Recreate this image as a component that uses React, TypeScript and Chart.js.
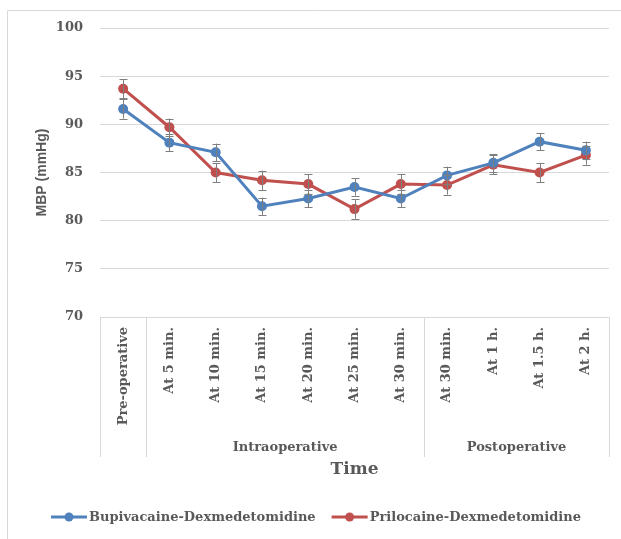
import React, { useEffect, useRef } from "react";
import { Chart, registerables } from "chart.js";

Chart.register(...registerables);

const categories = [
  "Pre-operative",
  "At 5 min.",
  "At 10 min.",
  "At 15 min.",
  "At 20 min.",
  "At 25 min.",
  "At 30 min.",
  "At 30 min.",
  "At 1 h.",
  "At 1.5 h.",
  "At 2 h.",
];
const groupLabels = ["", "Intraoperative", "Postoperative"];
const groupStarts = [0, 1, 7];
const groupEnds = [0, 6, 10];

const bupivacaine = [91.6, 88.1, 87.1, 81.5, 82.3, 83.5, 82.3, 84.7, 86.0, 88.2, 87.3];
const prilocaine = [93.7, 89.7, 85.0, 84.2, 83.8, 81.2, 83.8, 83.7, 85.8, 85.0, 86.8];
const bupivacaineErr = [1.0, 0.9, 0.9, 0.9, 0.9, 0.9, 0.9, 0.9, 0.9, 0.9, 0.9];
const prilocaineErr = [1.0, 0.9, 1.0, 1.0, 1.0, 1.0, 1.0, 1.0, 1.0, 1.0, 1.0];

const seriesNames = ["Bupivacaine-Dexmedetomidine", "Prilocaine-Dexmedetomidine"];
const yTicks = [70, 75, 80, 85, 90, 95, 100];

const BLUE = "#4F81BD";
const RED = "#C0504D";
const TEXT = "#595959";
const GRID = "#D9D9D9";
const SERIF = "'DejaVu Serif', 'Liberation Serif', serif";
const SANS = "'Liberation Sans', 'DejaVu Sans', sans-serif";

const overlayPlugin = {
  id: "overlay",
  afterDatasetsDraw(chart: any) {
    const { ctx, scales } = chart;
    const x = scales.x;
    const y = scales.y;
    const errs = [bupivacaineErr, prilocaineErr];
    ctx.save();
    ctx.strokeStyle = "#7F7F7F";
    ctx.lineWidth = 1;
    chart.data.datasets.forEach((ds: any, di: number) => {
      ds.data.forEach((v: number, i: number) => {
        const px = Math.round(x.getPixelForValue(i)) + 0.5;
        const top = y.getPixelForValue(v + errs[di][i]);
        const bot = y.getPixelForValue(v - errs[di][i]);
        ctx.beginPath();
        ctx.moveTo(px, top);
        ctx.lineTo(px, bot);
        ctx.moveTo(px - 4, Math.round(top) + 0.5);
        ctx.lineTo(px + 4, Math.round(top) + 0.5);
        ctx.moveTo(px - 4, Math.round(bot) + 0.5);
        ctx.lineTo(px + 4, Math.round(bot) + 0.5);
        ctx.stroke();
      });
    });
    ctx.restore();
  },
  afterDraw(chart: any) {
    const { ctx, scales, chartArea } = chart;
    const x = scales.x;
    const half = (x.getPixelForValue(1) - x.getPixelForValue(0)) / 2;
    const axisY = chartArea.bottom;
    const sepBottom = axisY + 140;
    ctx.save();
    // frame
    ctx.strokeStyle = GRID;
    ctx.lineWidth = 1;
    ctx.beginPath();
    ctx.moveTo(7.5, 539);
    ctx.lineTo(7.5, 10.5);
    ctx.lineTo(621, 10.5);
    ctx.stroke();
    // separators
    const seps = [0, 1, 7, 11];
    ctx.beginPath();
    seps.forEach((s) => {
      const px = Math.round(x.getPixelForValue(s) - half) + 0.5;
      ctx.moveTo(px, axisY);
      ctx.lineTo(px, sepBottom);
    });
    ctx.stroke();
    // group labels
    ctx.fillStyle = TEXT;
    ctx.font = `bold 13px ${SERIF}`;
    ctx.textAlign = "center";
    ctx.textBaseline = "middle";
    groupLabels.forEach((g, gi) => {
      if (!g) return;
      const a = x.getPixelForValue(groupStarts[gi]) - half;
      const b = x.getPixelForValue(groupEnds[gi]) + half;
      ctx.fillText(g, (a + b) / 2, axisY + 131);
    });
    // x title
    ctx.font = `bold 17px ${SERIF}`;
    ctx.fillText("Time", (chartArea.left + chartArea.right) / 2, 470);
    // y title
    ctx.save();
    ctx.translate(42, (chartArea.top + chartArea.bottom) / 2);
    ctx.rotate(-Math.PI / 2);
    ctx.font = `bold 14px ${SANS}`;
    ctx.fillText("MBP (mmHg)", 0, 0);
    ctx.restore();
    // legend
    const colors = [BLUE, RED];
    const legendY = 517;
    ctx.font = `bold 13px ${SERIF}`;
    ctx.textAlign = "left";
    const gap = 16;
    const sym = 36;
    const widths = seriesNames.map((n) => ctx.measureText(n).width);
    const total = widths.reduce((s, w) => s + w + sym + 2, 0) + gap;
    let lx = 316 - total / 2;
    seriesNames.forEach((n, i) => {
      ctx.strokeStyle = colors[i];
      ctx.lineWidth = 3;
      ctx.beginPath();
      ctx.moveTo(lx, legendY);
      ctx.lineTo(lx + sym, legendY);
      ctx.stroke();
      ctx.fillStyle = colors[i];
      ctx.beginPath();
      ctx.arc(lx + sym / 2, legendY, 4.5, 0, Math.PI * 2);
      ctx.fill();
      ctx.fillStyle = TEXT;
      ctx.fillText(n, lx + sym + 2, legendY + 1);
      lx += sym + 2 + widths[i] + gap;
    });
    ctx.restore();
  },
};

export default function App() {
  const ref = useRef<HTMLCanvasElement | null>(null);
  useEffect(() => {
    if (!ref.current) return;
    const chart = new Chart(ref.current, {
      type: "line",
      data: {
        labels: categories,
        datasets: [
          {
            label: seriesNames[0],
            data: bupivacaine,
            borderColor: BLUE,
            backgroundColor: BLUE,
            borderWidth: 3,
            pointRadius: 5,
            pointHoverRadius: 5,
            pointBorderWidth: 0,
            tension: 0,
          },
          {
            label: seriesNames[1],
            data: prilocaine,
            borderColor: RED,
            backgroundColor: RED,
            borderWidth: 3,
            pointRadius: 5,
            pointHoverRadius: 5,
            pointBorderWidth: 0,
            tension: 0,
          },
        ],
      },
      options: {
        animation: false,
        responsive: false,
        maintainAspectRatio: false,
        layout: { padding: { left: 0, right: 12, top: 28, bottom: 0 } },
        plugins: {
          legend: { display: false },
          tooltip: { enabled: false },
        },
        scales: {
          x: {
            type: "category",
            offset: true,
            grid: { display: false, drawTicks: false },
            border: { display: false },
            ticks: {
              autoSkip: false,
              minRotation: 90,
              maxRotation: 90,
              padding: 10,
              color: TEXT,
              font: { family: SERIF, size: 13, weight: "bold" },
            },
            afterFit: (s: any) => {
              s.height = 222;
            },
          },
          y: {
            min: 70,
            max: 100,
            grid: { color: GRID, lineWidth: 1, drawTicks: false },
            border: { display: false },
            afterBuildTicks: (s: any) => {
              s.ticks = yTicks.map((v) => ({ value: v }));
            },
            ticks: {
              padding: 17,
              color: TEXT,
              font: { family: SERIF, size: 13, weight: "bold" },
            },
            afterFit: (s: any) => {
              s.width = 100;
            },
          },
        },
      },
      plugins: [overlayPlugin],
    });
    return () => chart.destroy();
  }, []);
  return (
    <div style={{ position: "absolute", left: 0, top: 0, width: 621, height: 539, background: "#fff" }}>
      <canvas ref={ref} width={621} height={539} style={{ width: 621, height: 539 }} />
    </div>
  );
}
